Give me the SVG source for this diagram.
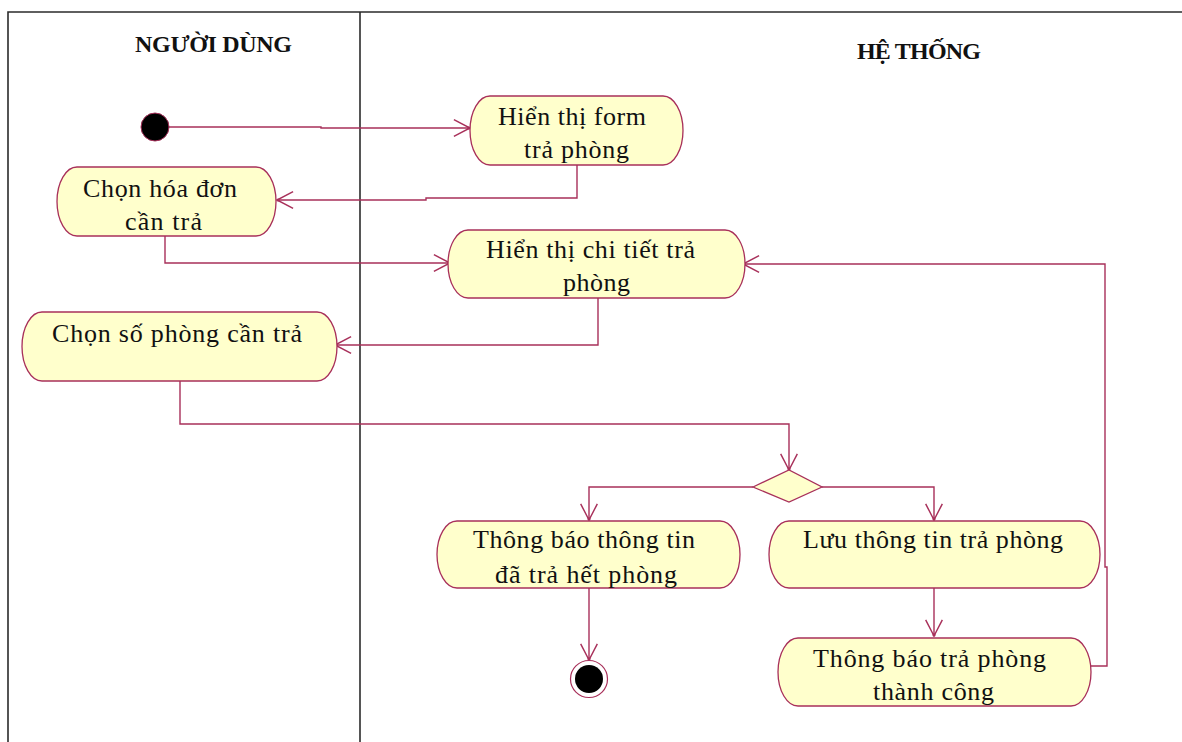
<svg xmlns="http://www.w3.org/2000/svg" width="1182" height="742" viewBox="0 0 1182 742">
  <defs>
    <style>
      .lane { fill: none; stroke: #2b2b2b; stroke-width: 1.6; }
      .title { font-family: "Liberation Serif", "Times New Roman", serif; font-weight: bold; font-size: 24px; fill: #111; }
      .act { fill: #FFFFCC; stroke: #A8305A; stroke-width: 1.3; }
      .lbl { font-family: "Liberation Serif", "Times New Roman", serif; font-size: 26px; fill: #111; }
      .flow { fill: none; stroke: #A8305A; stroke-width: 1.4; marker-end: url(#open); }
    </style>
    <marker id="open" markerUnits="userSpaceOnUse" markerWidth="20" markerHeight="20" viewBox="0 0 18 18" refX="16" refY="9" orient="auto" overflow="visible">
      <path d="M1.5,1.5 L16,9 L1.5,16.5" fill="none" stroke="#A8305A" stroke-width="1.3"/>
      <circle cx="15" cy="9" r="1.4" fill="#A8305A"/>
    </marker>
  </defs>

  <rect width="1182" height="742" fill="#ffffff"/>

  <!-- swimlanes -->
  <g id="lanes">
    <path class="lane" d="M8,742 V12 H1182"/>
    <path class="lane" d="M360,12 V742"/>
    <text class="title" x="135" y="52" textLength="157">NGƯỜI DÙNG</text>
    <text class="title" x="857" y="59" textLength="124">HỆ THỐNG</text>
  </g>

  <!-- connectors -->
  <g id="connectors">
    <path class="flow" d="M169,127 H321 V128 H470"/>
    <path class="flow" d="M577,165 V198 H426 V200 H277"/>
    <path class="flow" d="M165,236 V263 H450"/>
    <path class="flow" d="M1075,666 H1107 V567 H1105 V264 H743"/>
    <path class="flow" d="M598,298 V345 H335"/>
    <path class="flow" d="M180,381 V424 H789 V470"/>
    <path class="flow" d="M753,487 H589 V520"/>
    <path class="flow" d="M822,487 H934 V520"/>
    <path class="flow" d="M934,588 V636"/>
    <path class="flow" d="M589,588 V660"/>
  </g>

  <!-- start -->
  <g id="start">
    <circle cx="155" cy="127" r="14" fill="#000" stroke="#A8305A" stroke-width="1"/>
  </g>

  <g id="chon-hoa-don">
    <path class="act" d="M77,167 H256 A20,34.5 0 0 1 256,236 H77 A20,34.5 0 0 1 77,167 Z"/>
    <text class="lbl" x="83" y="197" textLength="154">Chọn hóa đơn</text>
    <text class="lbl" x="125" y="230" textLength="77">cần trả</text>
  </g>

  <g id="hien-thi-form">
    <path class="act" d="M490,96 H663 A20,34.5 0 0 1 663,165 H490 A20,34.5 0 0 1 490,96 Z"/>
    <text class="lbl" x="498" y="125" textLength="148">Hiển thị form</text>
    <text class="lbl" x="524" y="158" textLength="105">trả phòng</text>
  </g>

  <g id="hien-thi-chi-tiet">
    <path class="act" d="M468,230 H725 A20,34 0 0 1 725,298 H468 A20,34 0 0 1 468,230 Z"/>
    <text class="lbl" x="486" y="258" textLength="209">Hiển thị chi tiết trả</text>
    <text class="lbl" x="563" y="291" textLength="67">phòng</text>
  </g>

  <g id="chon-so-phong">
    <path class="act" d="M42,312 H317 A20,34.5 0 0 1 317,381 H42 A20,34.5 0 0 1 42,312 Z"/>
    <text class="lbl" x="52" y="342" textLength="250">Chọn số phòng cần trả</text>
  </g>

  <g id="decision">
    <path class="act" d="M753,487 L789,470 L822,487 L789,502 Z"/>
  </g>

  <g id="thong-bao-het-phong">
    <path class="act" d="M457,521 H720 A20,33.5 0 0 1 720,588 H457 A20,33.5 0 0 1 457,521 Z"/>
    <text class="lbl" x="473" y="548" textLength="222">Thông báo thông tin</text>
    <text class="lbl" x="495" y="583" textLength="182">đã trả hết phòng</text>
  </g>

  <g id="luu-thong-tin">
    <path class="act" d="M789,521 H1080 A20,33.5 0 0 1 1080,588 H789 A20,33.5 0 0 1 789,521 Z"/>
    <text class="lbl" x="803" y="548" textLength="260">Lưu thông tin trả phòng</text>
  </g>

  <g id="thong-bao-thanh-cong">
    <path class="act" d="M798,638 H1071 A20,34 0 0 1 1071,706 H798 A20,34 0 0 1 798,638 Z"/>
    <text class="lbl" x="813" y="667" textLength="233">Thông báo trả phòng</text>
    <text class="lbl" x="873" y="700" textLength="121">thành công</text>
  </g>

  <!-- end -->
  <g id="end">
    <circle cx="589" cy="679" r="18.5" fill="#fff" stroke="#A8305A" stroke-width="1.2"/>
    <circle cx="589" cy="679" r="14" fill="#000"/>
  </g>
</svg>
